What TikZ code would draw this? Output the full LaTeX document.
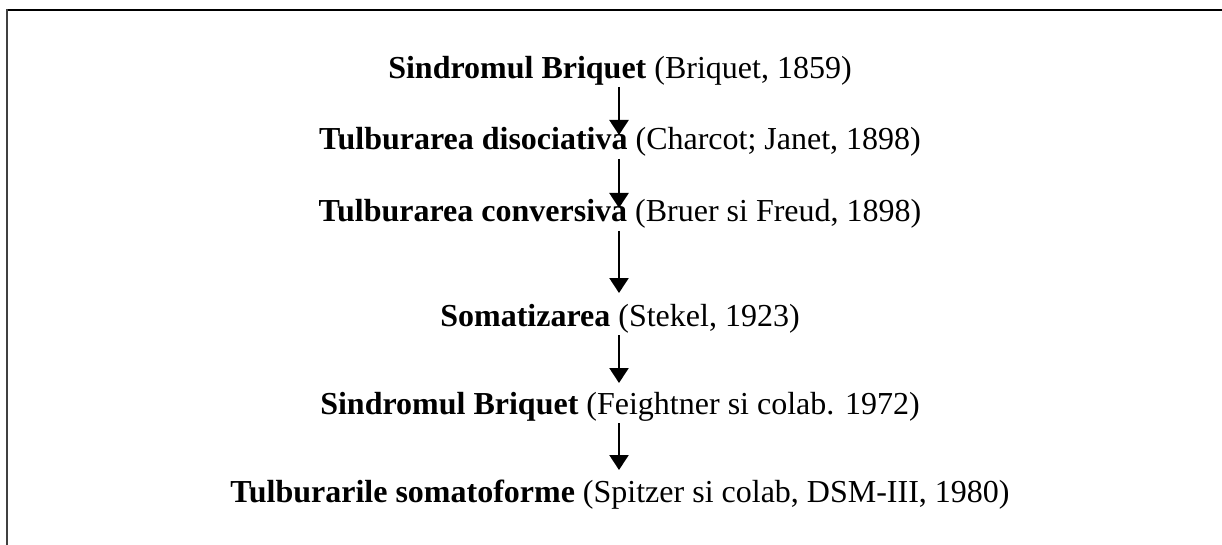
\documentclass[tikz,border=0pt]{standalone}
\usepackage{fontspec}
\setmainfont{Liberation Serif}
\usetikzlibrary{arrows.meta,calc}
\begin{document}
\begin{tikzpicture}[x=1pt,y=-1pt,
  txt/.style={font=\fontsize{32}{38}\selectfont, inner sep=0pt, anchor=base},
  arr/.style={line width=2.4pt, -{Triangle[width=19pt,length=15pt]}},
  frametop/.style={line width=2.6pt},
  frameleft/.style={line width=2pt, draw=black!75}]
\useasboundingbox (0,0) rectangle (1222,545);
\draw[frametop] (1222,10) -- (6,10);
\draw[frameleft] (7,9) -- (7,545);
\coordinate (ax) at (619,0);
\node[txt] (l1) at (620,79)  {\textbf{Sindromul Briquet} (Briquet, 1859)};
\node[txt] (l2) at (620,150) {\textbf{Tulburarea disociativa} (Charcot; Janet, 1898)};
\node[txt] (l3) at (620,222) {\textbf{Tulburarea conversiva} (Bruer si Freud, 1898)};
\node[txt] (l4) at (620,326) {\textbf{Somatizarea} (Stekel, 1923)};
\node[txt] (l5) at (620,414) {\textbf{Sindromul Briquet} (Feightner si colab. 1972)};
\node[txt] (l6) at (620,502) {\textbf{Tulburarile somatoforme} (Spitzer si colab, DSM-III, 1980)};
\foreach \a/\b/\s/\g in {l1/l2/8/15,l2/l3/9/14,l3/l4/9/33,l4/l5/9/31,l5/l6/9/32}{
  \draw[arr] ($(\a.base -| ax)+(0,\s)$) -- ($(\b.base -| ax)+(0,-\g)$);
}
\end{tikzpicture}
\end{document}
